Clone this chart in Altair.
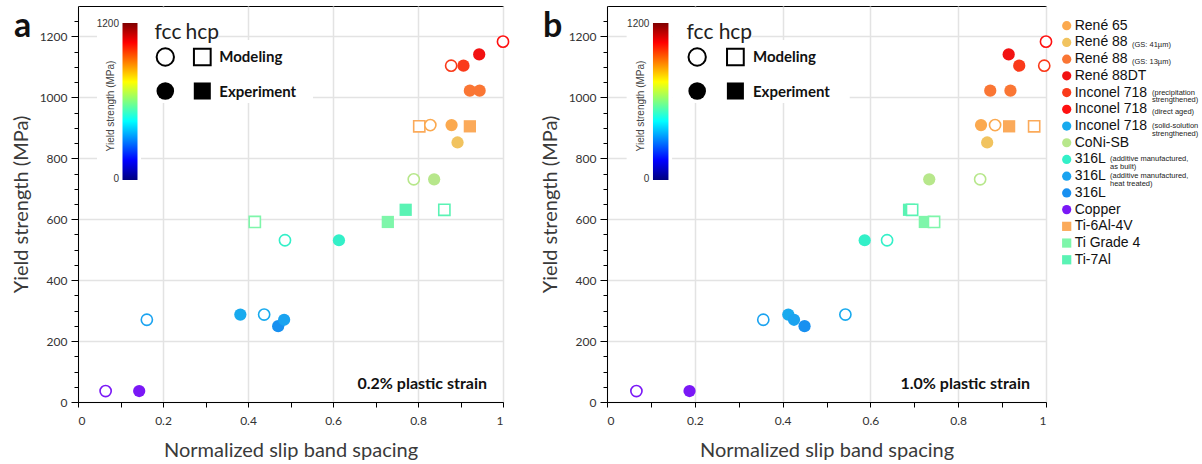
import altair as alt
import pandas as pd

# ---------------- data ----------------
KEYS = ["Rene65", "Rene88_41", "Rene88_13", "Rene88DT", "IN718_PS", "IN718_DA",
        "IN718_SS", "CoNiSB", "316L_AB", "316L_HT", "316L", "Copper",
        "Ti64", "TiG4", "Ti7Al"]
NAMES = ["René 65", "René 88", "René 88", "René 88DT", "Inconel 718", "Inconel 718",
         "Inconel 718", "CoNi-SB", "316L", "316L", "316L", "Copper",
         "Ti-6Al-4V", "Ti Grade 4", "Ti-7Al"]
NOTES = ["", "(GS: 41µm)", "(GS: 13µm)", "", "(precipitation\nstrengthened)", "(direct aged)",
         "(solid-solution\nstrengthened)", "", "(additive manufactured,\nas built)",
         "(additive manufactured,\nheat treated)", "", "", "", "", ""]
CRYSTAL = ["fcc", "fcc", "fcc", "fcc", "fcc", "fcc", "fcc", "fcc", "fcc", "fcc", "fcc", "fcc",
           "hcp", "hcp", "hcp"]
COLORS = ["#FBA94F", "#F1C35F", "#FA7634", "#F21212", "#FA3A1A", "#FF1010",
          "#18AAEE", "#B7E78B", "#33F0C8", "#1AA3F0", "#1890F0", "#7A18F6",
          "#FBAA5A", "#7EF6AA", "#5AF3B4"]

# points (same order in both panels)
P_KEY = ["Copper", "Copper", "316L_HT", "IN718_SS", "IN718_SS", "316L", "316L_HT", "TiG4",
         "316L_AB", "316L_AB", "TiG4", "Ti7Al", "Ti7Al", "CoNiSB", "CoNiSB", "Ti64",
         "Rene65", "Rene65", "Ti64", "Rene88_41", "Rene88_13", "Rene88_13",
         "IN718_PS", "IN718_PS", "Rene88DT", "IN718_DA"]
P_TYPE = ["Modeling", "Experiment", "Modeling", "Experiment", "Modeling", "Experiment",
          "Experiment", "Modeling", "Modeling", "Experiment", "Experiment", "Experiment",
          "Modeling", "Modeling", "Experiment", "Modeling", "Modeling", "Experiment",
          "Experiment", "Experiment", "Experiment", "Experiment", "Modeling", "Experiment",
          "Experiment", "Modeling"]
P_Y = [36, 36, 270, 287, 287, 249, 270, 591, 531, 531, 591, 631, 631, 731, 731, 905,
       909, 909, 905, 852, 1022, 1022, 1104, 1104, 1141, 1183]
A_X = [0.065, 0.144, 0.162, 0.382, 0.438, 0.471, 0.485, 0.416, 0.487, 0.614, 0.729, 0.771,
       0.862, 0.790, 0.838, 0.803, 0.829, 0.879, 0.922, 0.893, 0.922, 0.945, 0.878, 0.907,
       0.944, 1.000]
B_X = [0.067, 0.188, 0.356, 0.413, 0.543, 0.450, 0.426, 0.745, 0.638, 0.587, 0.724, 0.688,
       0.695, 0.850, 0.734, 0.973, 0.884, 0.852, 0.916, 0.866, 0.873, 0.919, 0.996, 0.939,
       0.915, 1.000]

X_TICKS = [0, 0.1, 0.2, 0.3, 0.4, 0.5, 0.6, 0.7, 0.8, 0.9, 1.0]
Y_TICKS = [0, 50, 100, 150, 200, 250, 300, 350, 400, 450, 500, 550, 600, 650, 700, 750,
           800, 850, 900, 950, 1000, 1050, 1100, 1150, 1200, 1250]

# ---------------- layout / style ----------------
H = 396
W_A, W_B = 425, 439
NOTE_DX = {"René 88": 57, "Inconel 718": 77, "316L": 35}
ONE = pd.DataFrame({"d": [0]})
AX_FONT = "Lato"
JET = [("#00007F", 0.0), ("#0000FF", 0.125), ("#00FFFF", 0.375), ("#FFFF00", 0.625),
       ("#FF0000", 0.875), ("#7F0000", 1.0)]

crystal_of = dict(zip(KEYS, CRYSTAL))

color_enc = alt.Color("key:N", scale=alt.Scale(domain=KEYS, range=COLORS), legend=None)
shape_enc = alt.Shape("crystal:N", scale=alt.Scale(domain=["fcc", "hcp"], range=["circle", "square"]),
                      legend=None)


def txt(x, y, text, **kw):
    return alt.Chart(ONE).mark_text(**kw).encode(x=alt.value(x), y=alt.value(y), text=alt.value(text))


def sym(x, y, shape, filled, size):
    if filled:
        m = alt.Chart(ONE).mark_point(shape=shape, filled=True, size=size, color="black", opacity=1)
    else:
        m = alt.Chart(ONE).mark_point(shape=shape, filled=False, fill="white", stroke="black",
                                      strokeWidth=2, size=size, opacity=1)
    return m.encode(x=alt.value(x), y=alt.value(y))


def box(x1, x2, y1, y2, **kw):
    return alt.Chart(ONE).mark_rect(**kw).encode(
        x=alt.value(x1), x2=alt.value(x2), y=alt.value(y1), y2=alt.value(y2))


def panel(xs, w, letter, strain):
    f = w / 425.0
    df = pd.DataFrame({"key": P_KEY, "type": P_TYPE, "x": xs, "y": P_Y})
    df["crystal"] = df["key"].map(crystal_of)

    xaxis = alt.Axis(
        values=X_TICKS, title="Normalized slip band spacing",
        labelExpr="round(datum.value*10) % 2 == 0 ? '' + round(datum.value*10)/10 : ''",
        tickSize=5, labelPadding=8, titlePadding=14,
        gridOpacity={"condition": {"test": "round(datum.value*10) % 2 == 0", "value": 1}, "value": 0},
    )
    yaxis = alt.Axis(
        values=Y_TICKS, title="Yield strength (MPa)", format="d",
        labelExpr="datum.value % 200 == 0 ? datum.label : ''",
        tickSize={"condition": {"test": "datum.value % 200 == 0", "value": 7}, "value": 4},
        gridOpacity={"condition": {"test": "datum.value % 200 == 0", "value": 1}, "value": 0},
        labelPadding=4, titlePadding=8,
    )
    base = alt.Chart(df).encode(
        x=alt.X("x:Q", scale=alt.Scale(domain=[0, 1], nice=False, zero=False), axis=xaxis),
        y=alt.Y("y:Q", scale=alt.Scale(domain=[0, 1300], nice=False), axis=yaxis),
        color=color_enc, shape=shape_enc,
    )
    filled = base.transform_filter(alt.datum.type == "Experiment").mark_point(
        filled=True, size=150, opacity=1)
    opened = base.transform_filter(alt.datum.type == "Modeling").mark_point(
        filled=False, fill="white", size=125, strokeWidth=1.6, opacity=1)

    gradient = {"gradient": "linear", "x1": 0, "y1": 1, "x2": 0, "y2": 0,
                "stops": [{"color": c, "offset": o} for c, o in JET]}

    deco = [
        box(19 * f, 63 * f, 2, 181, fill="white"),
        box(63 * f, 140 * f, 2, 97, fill="white"),
        box(140 * f, 235 * f, 34, 97, fill="white"),
        box(44.5 * f, 59.5 * f, 17, 174, fill=gradient),
        txt(41 * f, 18, "1200", font="Liberation Sans", fontSize=10, align="right", color="#333"),
        txt(41 * f, 173, "0", font="Liberation Sans", fontSize=10, align="right", color="#333"),
        txt(33 * f, 100, "Yield strength (MPa)", font="Liberation Sans", fontSize=10, angle=270,
            color="#444"),
        txt(90 * f, 33, "fcc", font=AX_FONT, fontSize=21, baseline="alphabetic", color="#222"),
        txt(124.3 * f, 33, "hcp", font=AX_FONT, fontSize=21, baseline="alphabetic", color="#222"),
        sym(87.3 * f, 51, "circle", False, 300),
        sym(124.3 * f, 51, "square", False, 280),
        sym(87.3 * f, 85, "circle", True, 310),
        sym(124.3 * f, 85, "square", True, 290),
        txt(141.3 * f, 51, "Modeling", font=AX_FONT, fontSize=15, fontWeight="bold", align="left",
            color="#111"),
        txt(141.3 * f, 86, "Experiment", font=AX_FONT, fontSize=15, fontWeight="bold", align="left",
            color="#111"),
        txt(w - 16, 378, strain, font=AX_FONT, fontSize=16, fontWeight="bold", align="right",
            color="#111"),
        txt(-64, 31, letter, font=AX_FONT, fontSize=34, fontWeight="bold", align="left",
            baseline="alphabetic", color="#111"),
    ]
    return deco, filled, opened


deco_a, fil_a, op_a = panel(A_X, W_A, "a", "0.2% plastic strain")
pa = alt.layer(*deco_a, fil_a, op_a).properties(width=W_A, height=H)

deco_b, fil_b, op_b = panel(B_X, W_B, "b", "1.0% plastic strain")

# right-hand material legend (part of panel b)
leg = pd.DataFrame({"key": KEYS, "name": NAMES, "note": NOTES, "crystal": CRYSTAL,
                    "idx": list(range(len(KEYS)))})
leg["nx"] = [468 + NOTE_DX.get(n, 0) for n in NAMES]
leg_base = alt.Chart(leg).transform_calculate(py="19.7 + datum.idx * 16.72")
leg_sym = leg_base.mark_point(filled=True, size=85, opacity=1).encode(
    x=alt.value(459.7), y=alt.Y("py:Q", scale=None), color=color_enc, shape=shape_enc)
leg_txt = leg_base.mark_text(align="left", font="Liberation Sans", fontSize=14, color="#111").encode(
    x=alt.value(467.7), y=alt.Y("py:Q", scale=None), text="name:N")
leg_note1 = leg_base.transform_filter("indexof(datum.note, '\\n') < 0 && datum.note != ''").transform_calculate(
    py2="datum.py + 3").mark_text(align="left", font="Liberation Sans", fontSize=7.5, color="#222").encode(
    x=alt.X("nx:Q", scale=None), y=alt.Y("py2:Q", scale=None), text="note:N")
leg_note2 = leg_base.transform_filter("indexof(datum.note, '\\n') >= 0").mark_text(
    align="left", font="Liberation Sans", fontSize=7.5, lineHeight=7.5, lineBreak="\n",
    color="#222").encode(
    x=alt.X("nx:Q", scale=None), y=alt.Y("py:Q", scale=None), text="note:N")

pb = alt.layer(*deco_b, fil_b, op_b, leg_sym, leg_txt, leg_note1, leg_note2).properties(
    width=W_B, height=H)

chart = alt.hconcat(pa, pb, spacing=26).properties(
    padding={"left": 10, "top": 5, "right": 0, "bottom": 0}
).configure_view(stroke="black", strokeWidth=1).configure_axis(
    labelFont=AX_FONT, labelFontSize=12, labelColor="#333",
    titleFont=AX_FONT, titleFontSize=20, titleFontWeight="normal", titleColor="#3a3a3a",
    domainColor="black", tickColor="black", gridColor="#E3E3E3", gridWidth=1.5,
)

chart.save("out.html", embed_options={"renderer": "svg", "actions": False})
